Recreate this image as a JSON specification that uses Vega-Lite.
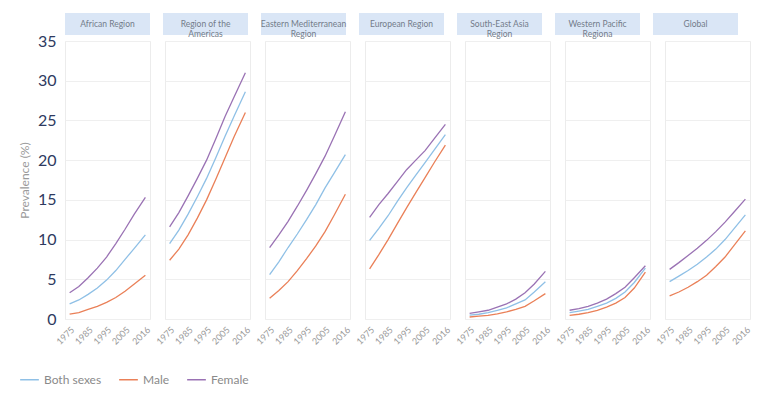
{
  "$schema": "https://vega.github.io/schema/vega-lite/v6.json",
  "padding": {"left": 18, "top": 13, "right": 5, "bottom": 5},
  "background": "white",
  "spacing": -5,
  "datasets": {
    "heads": [
      {"region": "African Region", "label": "African Region"},
      {"region": "Region of the Americas", "label": "Region of the\nAmericas"},
      {"region": "Eastern Mediterranean Region", "label": "Eastern Mediterranean\nRegion"},
      {"region": "European Region", "label": "European Region"},
      {"region": "South-East Asia Region", "label": "South-East Asia\nRegion"},
      {"region": "Western Pacific Regiona", "label": "Western Pacific\nRegiona"},
      {"region": "Global", "label": "Global"}
    ],
    "lines": [
      {"region": "African Region", "sex": "Female", "year": 1975, "value": 3.3},
      {"region": "African Region", "sex": "Female", "year": 1980, "value": 4.1},
      {"region": "African Region", "sex": "Female", "year": 1985, "value": 5.2},
      {"region": "African Region", "sex": "Female", "year": 1990, "value": 6.4},
      {"region": "African Region", "sex": "Female", "year": 1995, "value": 7.8},
      {"region": "African Region", "sex": "Female", "year": 2000, "value": 9.5},
      {"region": "African Region", "sex": "Female", "year": 2005, "value": 11.3},
      {"region": "African Region", "sex": "Female", "year": 2010, "value": 13.2},
      {"region": "African Region", "sex": "Female", "year": 2016, "value": 15.3},
      {"region": "African Region", "sex": "Both sexes", "year": 1975, "value": 1.9},
      {"region": "African Region", "sex": "Both sexes", "year": 1980, "value": 2.4},
      {"region": "African Region", "sex": "Both sexes", "year": 1985, "value": 3.1},
      {"region": "African Region", "sex": "Both sexes", "year": 1990, "value": 3.9},
      {"region": "African Region", "sex": "Both sexes", "year": 1995, "value": 4.9},
      {"region": "African Region", "sex": "Both sexes", "year": 2000, "value": 6.1},
      {"region": "African Region", "sex": "Both sexes", "year": 2005, "value": 7.5},
      {"region": "African Region", "sex": "Both sexes", "year": 2010, "value": 8.9},
      {"region": "African Region", "sex": "Both sexes", "year": 2016, "value": 10.6},
      {"region": "African Region", "sex": "Male", "year": 1975, "value": 0.6},
      {"region": "African Region", "sex": "Male", "year": 1980, "value": 0.8},
      {"region": "African Region", "sex": "Male", "year": 1985, "value": 1.2},
      {"region": "African Region", "sex": "Male", "year": 1990, "value": 1.6},
      {"region": "African Region", "sex": "Male", "year": 1995, "value": 2.1},
      {"region": "African Region", "sex": "Male", "year": 2000, "value": 2.7},
      {"region": "African Region", "sex": "Male", "year": 2005, "value": 3.5},
      {"region": "African Region", "sex": "Male", "year": 2010, "value": 4.4},
      {"region": "African Region", "sex": "Male", "year": 2016, "value": 5.5},

      {"region": "Region of the Americas", "sex": "Female", "year": 1975, "value": 11.6},
      {"region": "Region of the Americas", "sex": "Female", "year": 1980, "value": 13.4},
      {"region": "Region of the Americas", "sex": "Female", "year": 1985, "value": 15.5},
      {"region": "Region of the Americas", "sex": "Female", "year": 1990, "value": 17.7},
      {"region": "Region of the Americas", "sex": "Female", "year": 1995, "value": 20.0},
      {"region": "Region of the Americas", "sex": "Female", "year": 2000, "value": 22.7},
      {"region": "Region of the Americas", "sex": "Female", "year": 2005, "value": 25.5},
      {"region": "Region of the Americas", "sex": "Female", "year": 2010, "value": 28.0},
      {"region": "Region of the Americas", "sex": "Female", "year": 2016, "value": 31.0},
      {"region": "Region of the Americas", "sex": "Both sexes", "year": 1975, "value": 9.5},
      {"region": "Region of the Americas", "sex": "Both sexes", "year": 1980, "value": 11.2},
      {"region": "Region of the Americas", "sex": "Both sexes", "year": 1985, "value": 13.2},
      {"region": "Region of the Americas", "sex": "Both sexes", "year": 1990, "value": 15.4},
      {"region": "Region of the Americas", "sex": "Both sexes", "year": 1995, "value": 17.7},
      {"region": "Region of the Americas", "sex": "Both sexes", "year": 2000, "value": 20.3},
      {"region": "Region of the Americas", "sex": "Both sexes", "year": 2005, "value": 23.0},
      {"region": "Region of the Americas", "sex": "Both sexes", "year": 2010, "value": 25.6},
      {"region": "Region of the Americas", "sex": "Both sexes", "year": 2016, "value": 28.6},
      {"region": "Region of the Americas", "sex": "Male", "year": 1975, "value": 7.4},
      {"region": "Region of the Americas", "sex": "Male", "year": 1980, "value": 8.8},
      {"region": "Region of the Americas", "sex": "Male", "year": 1985, "value": 10.6},
      {"region": "Region of the Americas", "sex": "Male", "year": 1990, "value": 12.7},
      {"region": "Region of the Americas", "sex": "Male", "year": 1995, "value": 15.0},
      {"region": "Region of the Americas", "sex": "Male", "year": 2000, "value": 17.6},
      {"region": "Region of the Americas", "sex": "Male", "year": 2005, "value": 20.3},
      {"region": "Region of the Americas", "sex": "Male", "year": 2010, "value": 23.0},
      {"region": "Region of the Americas", "sex": "Male", "year": 2016, "value": 26.0},

      {"region": "Eastern Mediterranean Region", "sex": "Female", "year": 1975, "value": 9.0},
      {"region": "Eastern Mediterranean Region", "sex": "Female", "year": 1980, "value": 10.6},
      {"region": "Eastern Mediterranean Region", "sex": "Female", "year": 1985, "value": 12.3},
      {"region": "Eastern Mediterranean Region", "sex": "Female", "year": 1990, "value": 14.2},
      {"region": "Eastern Mediterranean Region", "sex": "Female", "year": 1995, "value": 16.2},
      {"region": "Eastern Mediterranean Region", "sex": "Female", "year": 2000, "value": 18.3},
      {"region": "Eastern Mediterranean Region", "sex": "Female", "year": 2005, "value": 20.5},
      {"region": "Eastern Mediterranean Region", "sex": "Female", "year": 2010, "value": 23.0},
      {"region": "Eastern Mediterranean Region", "sex": "Female", "year": 2016, "value": 26.1},
      {"region": "Eastern Mediterranean Region", "sex": "Both sexes", "year": 1975, "value": 5.6},
      {"region": "Eastern Mediterranean Region", "sex": "Both sexes", "year": 1980, "value": 7.2},
      {"region": "Eastern Mediterranean Region", "sex": "Both sexes", "year": 1985, "value": 9.0},
      {"region": "Eastern Mediterranean Region", "sex": "Both sexes", "year": 1990, "value": 10.7},
      {"region": "Eastern Mediterranean Region", "sex": "Both sexes", "year": 1995, "value": 12.5},
      {"region": "Eastern Mediterranean Region", "sex": "Both sexes", "year": 2000, "value": 14.4},
      {"region": "Eastern Mediterranean Region", "sex": "Both sexes", "year": 2005, "value": 16.5},
      {"region": "Eastern Mediterranean Region", "sex": "Both sexes", "year": 2010, "value": 18.4},
      {"region": "Eastern Mediterranean Region", "sex": "Both sexes", "year": 2016, "value": 20.7},
      {"region": "Eastern Mediterranean Region", "sex": "Male", "year": 1975, "value": 2.6},
      {"region": "Eastern Mediterranean Region", "sex": "Male", "year": 1980, "value": 3.6},
      {"region": "Eastern Mediterranean Region", "sex": "Male", "year": 1985, "value": 4.7},
      {"region": "Eastern Mediterranean Region", "sex": "Male", "year": 1990, "value": 6.1},
      {"region": "Eastern Mediterranean Region", "sex": "Male", "year": 1995, "value": 7.6},
      {"region": "Eastern Mediterranean Region", "sex": "Male", "year": 2000, "value": 9.2},
      {"region": "Eastern Mediterranean Region", "sex": "Male", "year": 2005, "value": 11.0},
      {"region": "Eastern Mediterranean Region", "sex": "Male", "year": 2010, "value": 13.1},
      {"region": "Eastern Mediterranean Region", "sex": "Male", "year": 2016, "value": 15.7},

      {"region": "European Region", "sex": "Female", "year": 1975, "value": 12.8},
      {"region": "European Region", "sex": "Female", "year": 1980, "value": 14.4},
      {"region": "European Region", "sex": "Female", "year": 1985, "value": 15.8},
      {"region": "European Region", "sex": "Female", "year": 1990, "value": 17.3},
      {"region": "European Region", "sex": "Female", "year": 1995, "value": 18.8},
      {"region": "European Region", "sex": "Female", "year": 2000, "value": 20.0},
      {"region": "European Region", "sex": "Female", "year": 2005, "value": 21.2},
      {"region": "European Region", "sex": "Female", "year": 2010, "value": 22.7},
      {"region": "European Region", "sex": "Female", "year": 2016, "value": 24.5},
      {"region": "European Region", "sex": "Both sexes", "year": 1975, "value": 9.9},
      {"region": "European Region", "sex": "Both sexes", "year": 1980, "value": 11.4},
      {"region": "European Region", "sex": "Both sexes", "year": 1985, "value": 13.0},
      {"region": "European Region", "sex": "Both sexes", "year": 1990, "value": 14.8},
      {"region": "European Region", "sex": "Both sexes", "year": 1995, "value": 16.5},
      {"region": "European Region", "sex": "Both sexes", "year": 2000, "value": 18.1},
      {"region": "European Region", "sex": "Both sexes", "year": 2005, "value": 19.7},
      {"region": "European Region", "sex": "Both sexes", "year": 2010, "value": 21.3},
      {"region": "European Region", "sex": "Both sexes", "year": 2016, "value": 23.2},
      {"region": "European Region", "sex": "Male", "year": 1975, "value": 6.3},
      {"region": "European Region", "sex": "Male", "year": 1980, "value": 8.1},
      {"region": "European Region", "sex": "Male", "year": 1985, "value": 10.0},
      {"region": "European Region", "sex": "Male", "year": 1990, "value": 12.0},
      {"region": "European Region", "sex": "Male", "year": 1995, "value": 14.0},
      {"region": "European Region", "sex": "Male", "year": 2000, "value": 15.9},
      {"region": "European Region", "sex": "Male", "year": 2005, "value": 17.8},
      {"region": "European Region", "sex": "Male", "year": 2010, "value": 19.7},
      {"region": "European Region", "sex": "Male", "year": 2016, "value": 21.9},

      {"region": "South-East Asia Region", "sex": "Female", "year": 1975, "value": 0.7},
      {"region": "South-East Asia Region", "sex": "Female", "year": 1980, "value": 0.9},
      {"region": "South-East Asia Region", "sex": "Female", "year": 1985, "value": 1.1},
      {"region": "South-East Asia Region", "sex": "Female", "year": 1990, "value": 1.5},
      {"region": "South-East Asia Region", "sex": "Female", "year": 1995, "value": 1.9},
      {"region": "South-East Asia Region", "sex": "Female", "year": 2000, "value": 2.5},
      {"region": "South-East Asia Region", "sex": "Female", "year": 2005, "value": 3.3},
      {"region": "South-East Asia Region", "sex": "Female", "year": 2010, "value": 4.4},
      {"region": "South-East Asia Region", "sex": "Female", "year": 2016, "value": 6.0},
      {"region": "South-East Asia Region", "sex": "Both sexes", "year": 1975, "value": 0.5},
      {"region": "South-East Asia Region", "sex": "Both sexes", "year": 1980, "value": 0.6},
      {"region": "South-East Asia Region", "sex": "Both sexes", "year": 1985, "value": 0.8},
      {"region": "South-East Asia Region", "sex": "Both sexes", "year": 1990, "value": 1.1},
      {"region": "South-East Asia Region", "sex": "Both sexes", "year": 1995, "value": 1.4},
      {"region": "South-East Asia Region", "sex": "Both sexes", "year": 2000, "value": 1.9},
      {"region": "South-East Asia Region", "sex": "Both sexes", "year": 2005, "value": 2.4},
      {"region": "South-East Asia Region", "sex": "Both sexes", "year": 2010, "value": 3.4},
      {"region": "South-East Asia Region", "sex": "Both sexes", "year": 2016, "value": 4.7},
      {"region": "South-East Asia Region", "sex": "Male", "year": 1975, "value": 0.25},
      {"region": "South-East Asia Region", "sex": "Male", "year": 1980, "value": 0.35},
      {"region": "South-East Asia Region", "sex": "Male", "year": 1985, "value": 0.45},
      {"region": "South-East Asia Region", "sex": "Male", "year": 1990, "value": 0.65},
      {"region": "South-East Asia Region", "sex": "Male", "year": 1995, "value": 0.9},
      {"region": "South-East Asia Region", "sex": "Male", "year": 2000, "value": 1.2},
      {"region": "South-East Asia Region", "sex": "Male", "year": 2005, "value": 1.6},
      {"region": "South-East Asia Region", "sex": "Male", "year": 2010, "value": 2.3},
      {"region": "South-East Asia Region", "sex": "Male", "year": 2016, "value": 3.2},

      {"region": "Western Pacific Regiona", "sex": "Female", "year": 1975, "value": 1.1},
      {"region": "Western Pacific Regiona", "sex": "Female", "year": 1980, "value": 1.3},
      {"region": "Western Pacific Regiona", "sex": "Female", "year": 1985, "value": 1.6},
      {"region": "Western Pacific Regiona", "sex": "Female", "year": 1990, "value": 2.0},
      {"region": "Western Pacific Regiona", "sex": "Female", "year": 1995, "value": 2.5},
      {"region": "Western Pacific Regiona", "sex": "Female", "year": 2000, "value": 3.2},
      {"region": "Western Pacific Regiona", "sex": "Female", "year": 2005, "value": 4.0},
      {"region": "Western Pacific Regiona", "sex": "Female", "year": 2010, "value": 5.2},
      {"region": "Western Pacific Regiona", "sex": "Female", "year": 2016, "value": 6.7},
      {"region": "Western Pacific Regiona", "sex": "Both sexes", "year": 1975, "value": 0.8},
      {"region": "Western Pacific Regiona", "sex": "Both sexes", "year": 1980, "value": 1.0},
      {"region": "Western Pacific Regiona", "sex": "Both sexes", "year": 1985, "value": 1.2},
      {"region": "Western Pacific Regiona", "sex": "Both sexes", "year": 1990, "value": 1.6},
      {"region": "Western Pacific Regiona", "sex": "Both sexes", "year": 1995, "value": 2.0},
      {"region": "Western Pacific Regiona", "sex": "Both sexes", "year": 2000, "value": 2.6},
      {"region": "Western Pacific Regiona", "sex": "Both sexes", "year": 2005, "value": 3.4},
      {"region": "Western Pacific Regiona", "sex": "Both sexes", "year": 2010, "value": 4.6},
      {"region": "Western Pacific Regiona", "sex": "Both sexes", "year": 2016, "value": 6.4},
      {"region": "Western Pacific Regiona", "sex": "Male", "year": 1975, "value": 0.45},
      {"region": "Western Pacific Regiona", "sex": "Male", "year": 1980, "value": 0.6},
      {"region": "Western Pacific Regiona", "sex": "Male", "year": 1985, "value": 0.8},
      {"region": "Western Pacific Regiona", "sex": "Male", "year": 1990, "value": 1.1},
      {"region": "Western Pacific Regiona", "sex": "Male", "year": 1995, "value": 1.5},
      {"region": "Western Pacific Regiona", "sex": "Male", "year": 2000, "value": 2.0},
      {"region": "Western Pacific Regiona", "sex": "Male", "year": 2005, "value": 2.7},
      {"region": "Western Pacific Regiona", "sex": "Male", "year": 2010, "value": 3.9},
      {"region": "Western Pacific Regiona", "sex": "Male", "year": 2016, "value": 5.9},

      {"region": "Global", "sex": "Female", "year": 1975, "value": 6.25},
      {"region": "Global", "sex": "Female", "year": 1980, "value": 7.1},
      {"region": "Global", "sex": "Female", "year": 1985, "value": 8.0},
      {"region": "Global", "sex": "Female", "year": 1990, "value": 8.9},
      {"region": "Global", "sex": "Female", "year": 1995, "value": 9.9},
      {"region": "Global", "sex": "Female", "year": 2000, "value": 11.0},
      {"region": "Global", "sex": "Female", "year": 2005, "value": 12.2},
      {"region": "Global", "sex": "Female", "year": 2010, "value": 13.5},
      {"region": "Global", "sex": "Female", "year": 2016, "value": 15.1},
      {"region": "Global", "sex": "Both sexes", "year": 1975, "value": 4.7},
      {"region": "Global", "sex": "Both sexes", "year": 1980, "value": 5.4},
      {"region": "Global", "sex": "Both sexes", "year": 1985, "value": 6.1},
      {"region": "Global", "sex": "Both sexes", "year": 1990, "value": 6.9},
      {"region": "Global", "sex": "Both sexes", "year": 1995, "value": 7.8},
      {"region": "Global", "sex": "Both sexes", "year": 2000, "value": 8.8},
      {"region": "Global", "sex": "Both sexes", "year": 2005, "value": 10.0},
      {"region": "Global", "sex": "Both sexes", "year": 2010, "value": 11.4},
      {"region": "Global", "sex": "Both sexes", "year": 2016, "value": 13.1},
      {"region": "Global", "sex": "Male", "year": 1975, "value": 2.9},
      {"region": "Global", "sex": "Male", "year": 1980, "value": 3.4},
      {"region": "Global", "sex": "Male", "year": 1985, "value": 4.0},
      {"region": "Global", "sex": "Male", "year": 1990, "value": 4.7},
      {"region": "Global", "sex": "Male", "year": 1995, "value": 5.5},
      {"region": "Global", "sex": "Male", "year": 2000, "value": 6.6},
      {"region": "Global", "sex": "Male", "year": 2005, "value": 7.8},
      {"region": "Global", "sex": "Male", "year": 2010, "value": 9.3},
      {"region": "Global", "sex": "Male", "year": 2016, "value": 11.1}
    ]
  },
  "config": {
    "font": "Lato",
    "legend": {
      "orient": "none",
      "legendX": -46,
      "legendY": 356,
      "direction": "horizontal",
      "symbolType": "stroke",
      "symbolStrokeWidth": 1.5,
      "symbolSize": 350,
      "labelFontSize": 12,
      "labelColor": "#8a8a8a",
      "columnPadding": 14
    }
  },
  "vconcat": [
    {
      "data": {"name": "heads"},
      "spacing": 13,
      "bounds": "flush",
      "facet": {
        "column": {
          "field": "region",
          "type": "nominal",
          "sort": ["African Region", "Region of the Americas", "Eastern Mediterranean Region", "European Region", "South-East Asia Region", "Western Pacific Regiona", "Global"],
          "header": null
        }
      },
      "spec": {
        "width": 85,
        "height": 22,
        "view": {"fill": "#dae6f6", "stroke": null},
        "mark": {"type": "text", "lineBreak": "\n", "fontSize": 8.5, "color": "#737c8a", "lineHeight": 9.5},
        "encoding": {
          "text": {"field": "label", "type": "nominal"},
          "y": {
            "datum": 17.5,
            "type": "quantitative",
            "scale": {"domain": [0, 35], "nice": false},
            "axis": {
              "title": "P",
              "titleFontSize": 12,
              "titleFontWeight": "normal",
              "titleColor": "transparent",
              "titlePadding": 6,
              "values": [17.5],
              "labelExpr": "'35'",
              "labelFontSize": 16,
              "labelColor": "transparent",
              "labelPadding": 8,
              "grid": false,
              "domain": false,
              "ticks": false
            }
          }
        }
      }
    },
    {
      "data": {"name": "lines"},
      "spacing": 13,
      "facet": {
        "column": {
          "field": "region",
          "type": "nominal",
          "sort": ["African Region", "Region of the Americas", "Eastern Mediterranean Region", "European Region", "South-East Asia Region", "Western Pacific Regiona", "Global"],
          "header": null
        }
      },
      "spec": {
        "width": 85,
        "height": 278,
        "view": {"stroke": "#ececec", "fill": "white"},
        "mark": {"type": "line", "strokeWidth": 1.3},
        "encoding": {
          "x": {
            "field": "year",
            "type": "quantitative",
            "scale": {"domain": [1972.5, 2018.5], "nice": false, "zero": false},
            "axis": {
              "title": null,
              "values": [1975, 1985, 1995, 2005, 2016],
              "format": "d",
              "labelAngle": -45,
              "labelFontSize": 9,
              "labelColor": "#9a9a9a",
              "labelOverlap": false,
              "labelBound": false,
              "labelFlush": false,
              "grid": false,
              "domain": false,
              "ticks": false,
              "labelPadding": 4
            }
          },
          "y": {
            "field": "value",
            "type": "quantitative",
            "scale": {"domain": [0, 35], "nice": false},
            "axis": {
              "title": "Prevalence (%)",
              "titleFontSize": 12,
              "titleFontWeight": "normal",
              "titleColor": "#9a9a9a",
              "titlePadding": 6,
              "values": [0, 5, 10, 15, 20, 25, 30, 35],
              "labelFontSize": 16,
              "labelColor": "#2e3a60",
              "labelPadding": 8,
              "grid": true,
              "gridColor": "#efefef",
              "domain": false,
              "ticks": false
            }
          },
          "color": {
            "field": "sex",
            "type": "nominal",
            "scale": {"domain": ["Both sexes", "Male", "Female"], "range": ["#8fc0e6", "#ea8058", "#9a72b4"]},
            "legend": {"title": null}
          }
        }
      }
    }
  ]
}
